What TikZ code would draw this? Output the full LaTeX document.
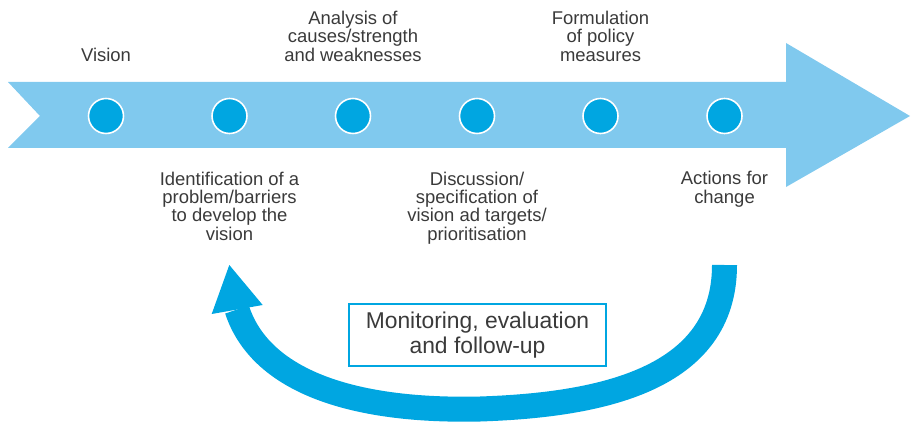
\documentclass[tikz,border=0pt]{standalone}
\usepackage{fontspec}
\setsansfont{Liberation Sans}
\usetikzlibrary{positioning}
\definecolor{band}{HTML}{80C9EE}
\definecolor{dot}{HTML}{00A6E1}
\definecolor{ink}{HTML}{3A3A3A}

\begin{document}
\begin{tikzpicture}[
    x=0.02cm, y=-0.02cm,
    every node/.style={font=\sffamily},
    stop/.style={circle, fill=dot, draw=white, line width=0.9pt, minimum size=0.7cm, inner sep=0pt},
    upper/.style={font=\sffamily\fontsize{10.5}{10.5}\selectfont, text=ink, align=center, inner sep=0pt, above=0.72cm of #1},
    lower/.style={font=\sffamily\fontsize{10.5}{10.5}\selectfont, text=ink, align=center, inner sep=0pt, below=0.74cm of #1},
    loopbox/.style={draw=dot, line width=1.1pt, font=\sffamily\fontsize{13}{14.2}\selectfont, text=ink,
        align=center, minimum width=5.15cm, minimum height=1.25cm, inner sep=0pt},
]
\useasboundingbox (0,0) rectangle (911,422);

% the time line
\fill[band] (8,82) -- (786,82) -- (786,43) -- (910,116) -- (786,187)
    -- (786,148) -- (8,148) -- (40,116) -- cycle;

\foreach \i/\x in {1/106, 2/229.5, 3/353, 4/477, 5/600.5, 6/724.5}{
    \node[stop] (c\i) at (\x,116) {};
}

% steps above and below the line
\node[upper=c1] (vision) {Vision};
\node[upper=c3] (analysis) {Analysis of\\causes/strength\\and weaknesses};
\node[upper=c5] (policy) {Formulation\\of policy\\measures};
\node[lower=c2] (problem) {Identification of a\\problem/barriers\\to develop the\\vision};
\node[lower=c4] (targets) {Discussion/\\specification of\\vision ad targets/\\prioritisation};
\node[lower=c6] (actions) {Actions for\\change};

% back round to the start
\coordinate (tail) at (724.5,265);
\coordinate (low) at (480,409);
\coordinate (neck) at (237,309.5);
\coordinate (tip) at (229.3,265);
\coordinate (wingl) at (211.7,314);
\coordinate (wingr) at (262.7,305);
\draw[dot, line width=0.5cm] (tail) .. controls (724.5,380) and (600,405) .. (low)
    .. controls (350,412) and (260,380) .. (neck);
\fill[dot] (wingl) -- (tip) -- (wingr) -- cycle;

\node[loopbox] (monitor) at (477.5,335) {Monitoring, evaluation\\and follow-up};
\end{tikzpicture}
\end{document}
